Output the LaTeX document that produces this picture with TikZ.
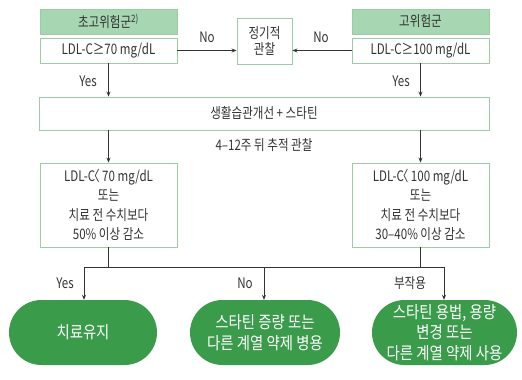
\documentclass[tikz,border=0pt]{standalone}
\usepackage{fontspec}
\setmainfont[FakeStretch=0.8]{Noto Sans CJK KR}
\newfontfamily\pillfont[FakeStretch=0.85]{Noto Sans CJK KR}
\usetikzlibrary{arrows.meta}
\definecolor{hdr}{HTML}{A6D7B2}
\definecolor{bord}{HTML}{9CCBA6}
\definecolor{pill}{HTML}{3A9B4B}
\definecolor{ln}{HTML}{333333}
\tikzset{
  hbox/.style={draw=bord, line width=0.9pt, fill=hdr, minimum width=137bp, minimum height=25bp, inner sep=0pt, font=\fontsize{14.5}{16}\selectfont, text=ln},
  cbox/.style={draw=bord, line width=0.9pt, fill=white, minimum width=137bp, minimum height=25bp, inner sep=0pt, font=\fontsize{14.5}{16}\selectfont, text=ln},
  tbox/.style={draw=bord, line width=0.9pt, fill=white, inner sep=0pt, align=center, font=\fontsize{14.5}{19.5}\selectfont, text=ln},
  pillbox/.style={fill=pill, rounded corners=32.5bp, minimum height=65bp, inner sep=0pt, align=center, text=white, font=\pillfont\fontsize{17}{21}\selectfont},
  arr/.style={draw=ln, line width=0.8pt, -{Stealth[length=5pt,width=4pt]}},
  ln/.style={draw=ln, line width=0.8pt},
  lab/.style={font=\fontsize{14.5}{16}\selectfont, text=ln}
}
\begin{document}
\begin{tikzpicture}[x=1bp,y=-1bp]
\useasboundingbox (0,0) rectangle (522,379);
\node[hbox] (h1) at (108.5,21.5) {초고위험군\textsuperscript{2)}};
\node[cbox] (c1) at (108.5,50.5) {LDL-C≥70 mg/dL};
\node[hbox] (h2) at (420.5,21.5) {고위험군};
\node[cbox] (c2) at (420.5,50.5) {LDL-C≥100 mg/dL};
\node[tbox, minimum width=55bp, minimum height=46bp, font=\fontsize{14.5}{17}\selectfont] (obs) at (264.5,41) {정기적\\관찰};
\node[tbox, minimum width=450bp, minimum height=33bp] (life) at (264,113.5) {생활습관개선 + 스타틴};
\node[lab] (fol) at (264,145) {4–12주 뒤 추적 관찰};
\node[tbox, minimum width=137bp, minimum height=84bp] (r1) at (108.5,205) {LDL-C\hspace{-0.5em}〈 70 mg/dL\\또는\\치료 전 수치보다\\ 50\% 이상 감소};
\node[tbox, minimum width=137bp, minimum height=84bp] (r2) at (420.5,205) {LDL-C\hspace{-0.5em}〈 100 mg/dL\\또는\\치료 전 수치보다\\ 30–40\% 이상 감소};
\node[pillbox, minimum width=148bp] (t1) at (83,332.5) {치료유지};
\node[pillbox, minimum width=150bp] (t2) at (265,332.5) {스타틴 증량 또는\\다른 계열 약제 병용};
\node[pillbox, minimum width=145bp, font=\pillfont\fontsize{17}{20.5}\selectfont] (t3) at (444.5,332.5) {스타틴 용법, 용량\\변경 또는\\다른 계열 약제 사용};
\coordinate (hL) at (84,267);
\coordinate (hM) at (264,267);
\coordinate (hR) at (444,267);
% top arrows
\draw[arr] (c1.east) -- (obs.west|-c1.east);
\draw[arr] (c2.west) -- (obs.east|-c2.west);
\node[lab] at (207,37) {No};
\node[lab] at (321,37) {No};
\draw[arr] (c1.south) -- (c1.south|-life.north);
\draw[arr] (c2.south) -- (c2.south|-life.north);
\node[lab] at (88,81) {Yes};
\node[lab] at (401,81) {Yes};
\draw[arr] (life.south-|r1.north) -- (r1.north);
\draw[arr] (life.south-|r2.north) -- (r2.north);
% bottom
\draw[ln] (r1.south) -- (r1.south|-hL);
\draw[ln] (r2.south) -- (r2.south|-hR);
\draw[ln] (hL) -- (hR);
\draw[arr] (hL) -- (hL|-t1.north);
\draw[arr] (hM) -- (hM|-t2.north);
\draw[arr] (hR) -- (hR|-t3.north);
\node[lab] at (65,283) {Yes};
\node[lab] at (245,283) {No};
\node[lab] at (410,283) {부작용};
\end{tikzpicture}
\end{document}
